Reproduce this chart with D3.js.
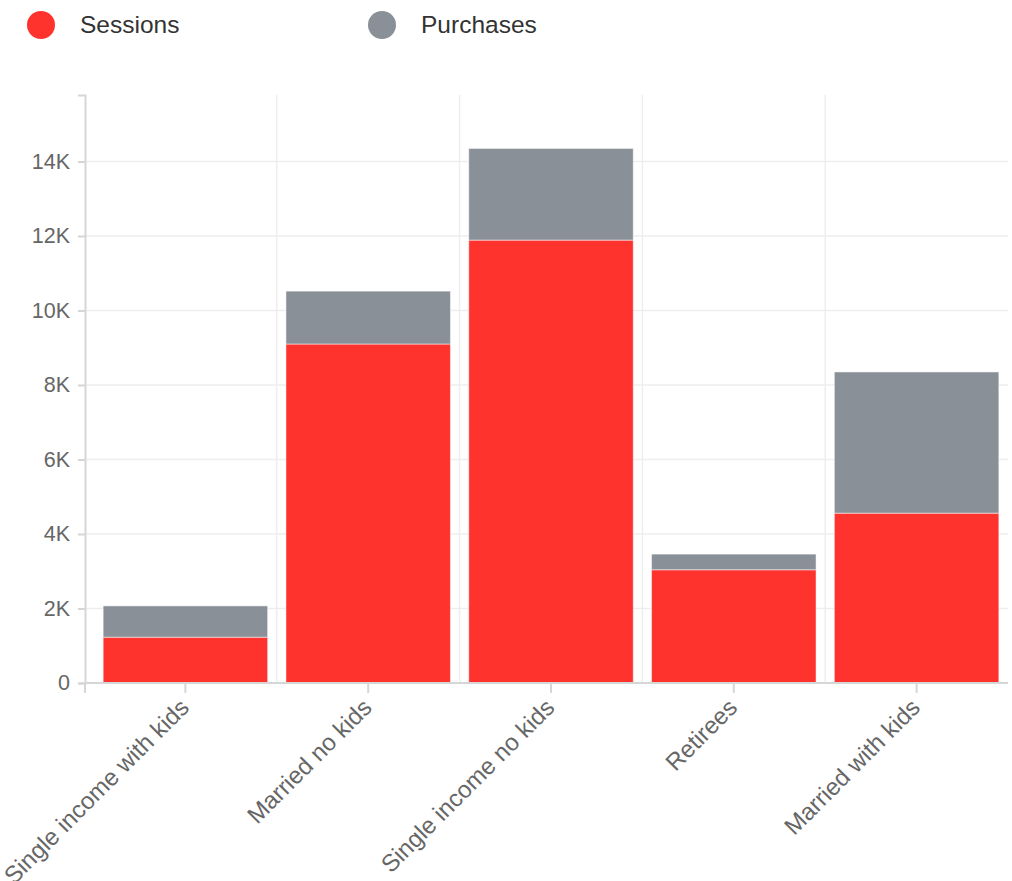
<!DOCTYPE html>
<html><head><meta charset="utf-8">
<script src="https://cdn.jsdelivr.net/npm/d3@7"></script>
<style>body{margin:0;background:#fff;font-family:"Liberation Sans",Arial,sans-serif;}</style>
</head><body><svg id="c" width="1012" height="881"></svg>
<script>
const categories = ["Single income with kids","Married no kids","Single income no kids","Retirees","Married with kids"];
const sessions = [1230, 9100, 11890, 3040, 4560];
const purchases = [840, 1420, 2460, 420, 3790];
const seriesNames = ["Sessions","Purchases"];
const seriesColors = ["#ff332e","#8a9098"];
const yTicks = [0,2000,4000,6000,8000,10000,12000,14000];

const svg = d3.select("#c");
const m = {l:85, r:4, t:95, b:198};
const W = 1012, H = 881;
const x0 = m.l, x1 = W - m.r, yb = H - m.b;
const FF = "Liberation Sans, Arial, sans-serif";

const data = categories.map((c,i)=>({cat:c, Sessions:sessions[i], Purchases:purchases[i]}));
const stack = d3.stack().keys(seriesNames)(data);
const maxTotal = d3.max(data, d=>d.Sessions+d.Purchases);

const x = d3.scaleBand().domain(categories).range([94, 1008]).paddingInner(0.1).paddingOuter(0.05);
const y = d3.scaleLinear().domain([0, maxTotal*1.1]).range([yb, m.t]);

// grid
const g = svg.append("g");
g.selectAll("line.h").data(yTicks.slice(1)).join("line")
  .attr("x1",x0).attr("x2",x1).attr("y1",d=>y(d)).attr("y2",d=>y(d))
  .attr("stroke","#eeeeee").attr("stroke-width",1.5);
const step = x.step();
g.selectAll("line.v").data(categories.slice(1)).join("line")
  .attr("x1",d=>x(d)-x.paddingInner()*step/2).attr("x2",d=>x(d)-x.paddingInner()*step/2)
  .attr("y1",m.t).attr("y2",yb)
  .attr("stroke","#eeeeee").attr("stroke-width",1.5);

// bars
svg.append("g").selectAll("g").data(stack).join("g")
  .attr("fill",(d,i)=>seriesColors[i])
  .selectAll("rect").data(d=>d).join("rect")
  .attr("x",d=>x(d.data.cat)).attr("width",x.bandwidth())
  .attr("y",d=>y(d[1])).attr("height",d=>y(d[0])-y(d[1]))
  .attr("stroke","rgba(255,255,255,0.5)").attr("stroke-width",1);

// y axis
const yAxis = d3.axisLeft(y).tickValues(yTicks).tickSize(7).tickSizeOuter(7)
  .tickFormat(d=> d===0 ? "0" : (d/1000)+"K");
const ya = svg.append("g").attr("transform",`translate(${x0},0)`).call(yAxis);
ya.select(".domain").attr("stroke","#d6d6d6").attr("stroke-width",2);
ya.selectAll(".tick line").attr("stroke","#d6d6d6").attr("stroke-width",2);
ya.selectAll(".tick text").attr("fill","#666").attr("font-size",21.5).attr("x",-15)
  .attr("font-family",FF);

// x axis
const xa = svg.append("g").attr("transform",`translate(0,${yb})`);
xa.append("line").attr("x1",x0).attr("x2",x1).attr("stroke","#d6d6d6").attr("stroke-width",2);
xa.append("line").attr("x1",x0).attr("x2",x0).attr("y1",0).attr("y2",10).attr("stroke","#d6d6d6").attr("stroke-width",2);
const xt = xa.selectAll("g.t").data(categories).join("g")
  .attr("transform",d=>`translate(${x(d)+x.bandwidth()/2},0)`);
xt.append("line").attr("y2",10).attr("stroke","#d6d6d6").attr("stroke-width",2);
xt.append("text").text(d=>d).attr("fill","#666").attr("font-size",24)
  .attr("font-family",FF)
  .attr("text-anchor","end").attr("transform","translate(5,26) rotate(-45)");

// legend
const lg = svg.append("g");
const lx = [41, 382];
seriesNames.forEach((s,i)=>{
  lg.append("circle").attr("cx",lx[i]).attr("cy",25).attr("r",14).attr("fill",seriesColors[i]);
  lg.append("text").attr("x",lx[i]+(i===0?39:39)).attr("y",33).text(s).attr("fill","#333").attr("font-size",24.5)
    .attr("font-family",FF);
});
</script></body></html>
